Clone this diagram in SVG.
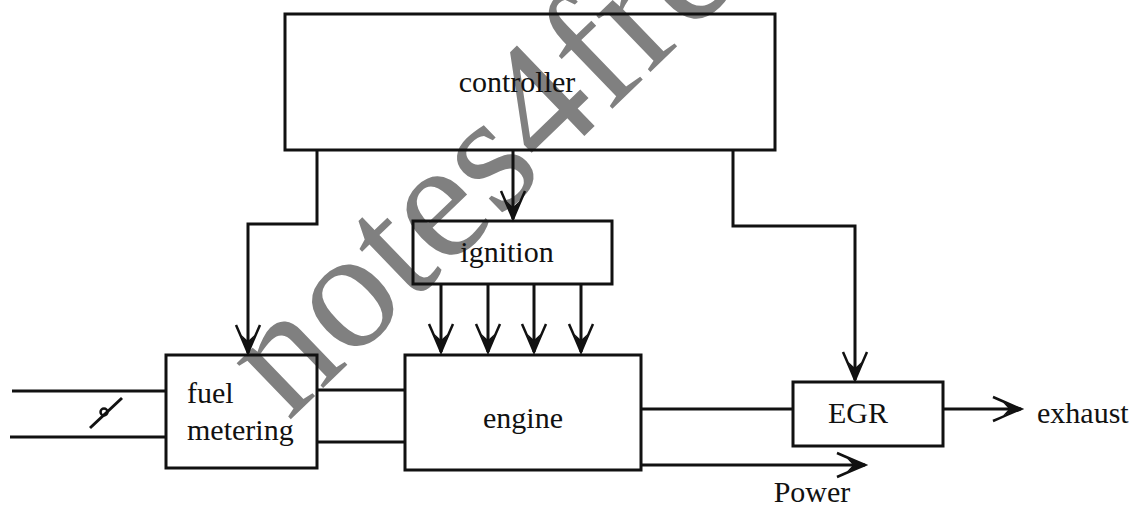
<svg xmlns="http://www.w3.org/2000/svg" width="1133" height="508" viewBox="0 0 1133 508">
<style>
.box{fill:none;stroke:#111;stroke-width:3}
.ln{fill:none;stroke:#111;stroke-width:3}
.lbl{font-family:"Liberation Serif","Times New Roman",serif;font-size:30px;fill:#111}
.wm{font-family:"Liberation Serif","Times New Roman",serif;font-size:170px;fill:#808080}
</style>
<defs>
<marker id="arr" markerUnits="userSpaceOnUse" orient="auto" refX="0" refY="0" markerWidth="40" markerHeight="40" overflow="visible">
<path d="M-28,-12 Q-12,-5 0,0 Q-12,5 -28,12" fill="none" stroke="#111" stroke-width="2.5"/>
<path d="M-18,-6.5 L0,0 L-18,6.5 L-12,0 Z" fill="#111"/>
</marker>
</defs>
<rect width="1133" height="508" fill="#fff"/>
<g id="watermark">
<text class="wm" x="288" y="422" transform="rotate(-44 288 422)">notes4free</text>
</g>
<g id="controller">
<rect class="box" x="285" y="14" width="490" height="136"/>
<text class="lbl" x="517" y="92" text-anchor="middle">controller</text>
</g>
<g id="ignition">
<rect class="box" x="413" y="221" width="199" height="63"/>
<text class="lbl" x="507" y="262" text-anchor="middle">ignition</text>
</g>
<g id="fuel-metering">
<rect class="box" x="166" y="355" width="151" height="113"/>
<text class="lbl" x="187" y="403">fuel</text>
<text class="lbl" x="187" y="440">metering</text>
</g>
<g id="engine">
<rect class="box" x="405" y="355" width="236" height="115"/>
<text class="lbl" x="523" y="428" text-anchor="middle">engine</text>
</g>
<g id="egr">
<rect class="box" x="793" y="382" width="150" height="64"/>
<text class="lbl" x="858" y="423" text-anchor="middle">EGR</text>
</g>
<g id="labels">
<text class="lbl" x="1037" y="423">exhaust</text>
<text class="lbl" x="812" y="502" text-anchor="middle">Power</text>
</g>
<g id="connectors">
<path class="ln" d="M317,150 V224 H248 V353" marker-end="url(#arr)"/>
<path class="ln" d="M513,150 V219" marker-end="url(#arr)"/>
<path class="ln" d="M733,150 V226 H855 V380" marker-end="url(#arr)"/>
<path class="ln" d="M441,284 V352" marker-end="url(#arr)"/>
<path class="ln" d="M488,284 V352" marker-end="url(#arr)"/>
<path class="ln" d="M534,284 V352" marker-end="url(#arr)"/>
<path class="ln" d="M581,284 V352" marker-end="url(#arr)"/>
<path class="ln" d="M12,391 H166"/>
<path class="ln" d="M10,437 H166"/>
<path class="ln" d="M90,428 L122,398"/>
<circle cx="104" cy="412" r="3.5" fill="none" stroke="#111" stroke-width="2.5"/>
<path class="ln" d="M317,390 H405"/>
<path class="ln" d="M317,442 H405"/>
<path class="ln" d="M641,409 H793"/>
<path class="ln" d="M943,409 H1021" marker-end="url(#arr)"/>
<path class="ln" d="M641,465 H865" marker-end="url(#arr)"/>
</g>
</svg>
